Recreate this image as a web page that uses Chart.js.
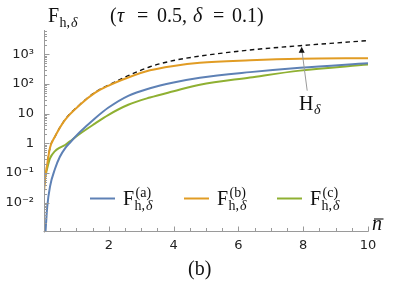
<!DOCTYPE html>
<html><head><meta charset="utf-8">
<script src="https://cdn.jsdelivr.net/npm/chart.js@4"></script>
<style>html,body{margin:0;padding:0;background:#fff;overflow:hidden}canvas{display:block}</style>
</head><body>
<canvas id="c" width="399" height="285"></canvas>
<script>
// ---- data ----
const xTickValues = [2, 4, 6, 8, 10];
const xTickLabels = ['2', '4', '6', '8', '10'];
const yTickValues = [0.01, 0.1, 1, 10, 100, 1000];
const yTickLabels = ['10⁻²', '10⁻¹', '1', '10', '10²', '10³'];

const nA = [0.04, 0.06, 0.1, 0.185, 0.34, 0.49, 0.65, 0.8, 1.11, 1.57, 1.98, 2.6, 3.27, 4.0, 4.81, 6.36, 7.9, 10];
const fA = [0.0008, 0.0018, 0.0074, 0.035, 0.14, 0.355, 0.68, 1.05, 2.4, 6.9, 15.8, 40, 72, 112, 162, 251, 355, 500];

const nB = [0, 0.03, 0.1, 0.185, 0.34, 0.65, 1.11, 1.57, 1.98, 2.6, 3.27, 4.0, 4.81, 6.36, 7.9, 10];
const fB = [0.022, 0.06, 0.2, 0.71, 1.7, 6.2, 20, 50, 87, 166, 290, 407, 520, 630, 710, 740];

const nC = [0, 0.08, 0.185, 0.34, 0.49, 0.65, 0.8, 1.11, 1.57, 1.98, 2.6, 3.27, 4.0, 4.81, 6.36, 7.9, 10];
const fC = [0.05, 0.12, 0.31, 0.55, 0.72, 0.88, 1.17, 2.1, 4.6, 9, 20, 35, 57, 95, 166, 282, 450];

const nH = [0, 0.03, 0.1, 0.185, 0.34, 0.65, 1.11, 1.57, 1.98, 2.6, 3.27, 4.0, 4.81, 6.36, 7.9, 10];
const fH = [0.022, 0.06, 0.2, 0.71, 1.7, 6.3, 20.5, 52, 91, 190, 380, 617, 870, 1400, 1950, 2900];

const seriesSup = ['(a)', '(b)', '(c)'];
const colors = ['#5E81B5', '#E19C24', '#8FB032'];

const Y_MIN = Math.pow(10, -2.953);
const Y_MAX = Math.pow(10, 3.819);

const pts = (xs, ys) => xs.map((x, i) => ({x, y: ys[i]}));

const SERIF = '"Liberation Serif", "DejaVu Serif", serif';

function drawF(ctx, x, base, size, sup) {
  ctx.textBaseline = 'alphabetic';
  ctx.textAlign = 'left';
  ctx.fillStyle = '#111';
  ctx.font = size + 'px ' + SERIF;
  ctx.fillText('F', x, base);
  const w = ctx.measureText('F').width;
  const ss = Math.round(size * 0.68);
  let xs = x + w + 0.5;
  if (sup) {
    ctx.font = ss + 'px ' + SERIF;
    ctx.fillText(sup, xs + 1, base - size * 0.42);
  }
  ctx.font = ss + 'px ' + SERIF;
  ctx.fillText('h,', xs, base + size * 0.27);
  const w2 = ctx.measureText('h,').width;
  ctx.font = 'italic ' + ss + 'px ' + SERIF;
  ctx.fillText('δ', xs + w2 + 1, base + size * 0.27);
}

const deco = {
  id: 'deco',
  afterDraw(chart) {
    const ctx = chart.ctx;
    const xs = chart.scales.x, ys = chart.scales.y;
    const L = Math.round(xs.getPixelForValue(0)) + 0.5;
    const B = Math.round(ys.bottom) + 0.5;
    ctx.save();
    // axes
    ctx.strokeStyle = '#9a9a9a';
    ctx.lineWidth = 1;
    ctx.beginPath();
    ctx.moveTo(L - 1, B); ctx.lineTo(Math.round(xs.getPixelForValue(10)) + 0.5, B);
    ctx.moveTo(L, Math.round(ys.top)); ctx.lineTo(L, B + 1);
    // x ticks
    for (let v = 0; v <= 10.001; v += 0.5) {
      const px = Math.round(xs.getPixelForValue(v)) + 0.5;
      const len = (Math.abs(v % 2) < 1e-6 && v > 0) ? 5 : 3.5;
      ctx.moveTo(px, B); ctx.lineTo(px, B - len);
    }
    // y ticks
    for (let k = -3; k <= 3; k++) {
      for (let m = 1; m <= 9; m++) {
        const v = m * Math.pow(10, k);
        if (v < Y_MIN || v > Y_MAX) continue;
        const py = Math.round(ys.getPixelForValue(v)) + 0.5;
        const len = m === 1 ? 5 : 2.5;
        ctx.moveTo(L, py); ctx.lineTo(L + len, py);
      }
    }
    ctx.stroke();

    // title
    drawF(ctx, 48, 22, 20, null);
    ctx.fillStyle = '#111';
    ctx.font = '20px ' + SERIF;
    ctx.fillText('(', 110, 22);
    ctx.font = 'italic 20px ' + SERIF;
    ctx.fillText('τ', 117, 22);
    ctx.font = '20px ' + SERIF;
    ctx.fillText('=', 137, 22);
    ctx.fillText('0.5,', 157, 22);
    ctx.font = 'italic 20px ' + SERIF;
    ctx.fillText('δ', 193, 22);
    ctx.font = '20px ' + SERIF;
    ctx.fillText('=', 213, 22);
    ctx.fillText('0.1)', 232, 22);

    // legend
    const lx = [90, 184, 277];
    const ly = 198.5;
    for (let i = 0; i < 3; i++) {
      ctx.strokeStyle = colors[i];
      ctx.lineWidth = 2;
      ctx.beginPath();
      ctx.moveTo(lx[i], ly); ctx.lineTo(lx[i] + 25, ly);
      ctx.stroke();
      drawF(ctx, lx[i] + 33, 205, 20, seriesSup[i]);
    }

    // H_delta annotation
    const tipX = xs.getPixelForValue(8) - 1.5;
    const tipY = ys.getPixelForValue(1950) + 1;
    ctx.strokeStyle = '#9a9a9a';
    ctx.lineWidth = 1;
    ctx.beginPath();
    ctx.moveTo(tipX + 5.5, tipY + 44); ctx.lineTo(tipX + 0.4, tipY + 5);
    ctx.stroke();
    ctx.fillStyle = '#111';
    ctx.beginPath();
    ctx.moveTo(tipX, tipY); ctx.lineTo(tipX - 3, tipY + 6); ctx.lineTo(tipX + 3, tipY + 6);
    ctx.closePath(); ctx.fill();
    ctx.font = '20px ' + SERIF;
    ctx.fillText('H', 299, 110);
    ctx.font = 'italic 14px ' + SERIF;
    ctx.fillText('δ', 314, 114);

    // x-axis label n-bar
    ctx.font = 'italic 20px ' + SERIF;
    ctx.fillText('n', 372, 230);
    ctx.strokeStyle = '#111';
    ctx.lineWidth = 1.1;
    ctx.beginPath();
    ctx.moveTo(374, 219); ctx.lineTo(383.5, 219);
    ctx.stroke();

    // panel label
    ctx.font = '20px ' + SERIF;
    ctx.fillText('(b)', 188, 275);
    ctx.restore();
  }
};

const lineDs = (data, color) => ({
  data, borderColor: color, borderWidth: 2, pointRadius: 0, fill: false,
  cubicInterpolationMode: 'monotone'
});

new Chart(document.getElementById('c'), {
  type: 'line',
  data: {
    datasets: [
      lineDs(pts(nA, fA), colors[0]),
      lineDs(pts(nB, fB), colors[1]),
      lineDs(pts(nC, fC), colors[2]),
      Object.assign(lineDs(pts(nH, fH), '#111'), {borderWidth: 1.4, borderDash: [4.5, 3.5]})
    ]
  },
  options: {
    responsive: false,
    animation: false,
    devicePixelRatio: 1,
    layout: {padding: {left: 0, top: 30, right: 31, bottom: 0}},
    plugins: {legend: {display: false}, tooltip: {enabled: false}, title: {display: false}},
    scales: {
      x: {
        type: 'linear', min: 0, max: 10,
        grid: {display: false, drawTicks: false},
        border: {display: false},
        afterBuildTicks: s => { s.ticks = xTickValues.map(v => ({value: v})); },
        afterFit: s => { s.height = 54; },
        ticks: {
          autoSkip: false, maxRotation: 0, padding: 7,
          color: '#222', font: {family: 'DejaVu Sans', size: 13},
          callback: v => { const i = xTickValues.indexOf(v); return i >= 0 ? xTickLabels[i] : ''; }
        }
      },
      y: {
        type: 'logarithmic', min: Y_MIN, max: Y_MAX,
        grid: {display: false, drawTicks: false},
        border: {display: false},
        afterBuildTicks: s => { s.ticks = yTickValues.map(v => ({value: v})); },
        afterFit: s => { s.width = 44; },
        ticks: {
          autoSkip: false, padding: 10,
          color: '#222', font: {family: 'DejaVu Sans', size: 13},
          callback: v => {
            const i = yTickValues.findIndex(t => Math.abs(t - v) / t < 1e-6);
            return i >= 0 ? yTickLabels[i] : '';
          }
        }
      }
    }
  },
  plugins: [deco]
});
</script>
</body></html>
